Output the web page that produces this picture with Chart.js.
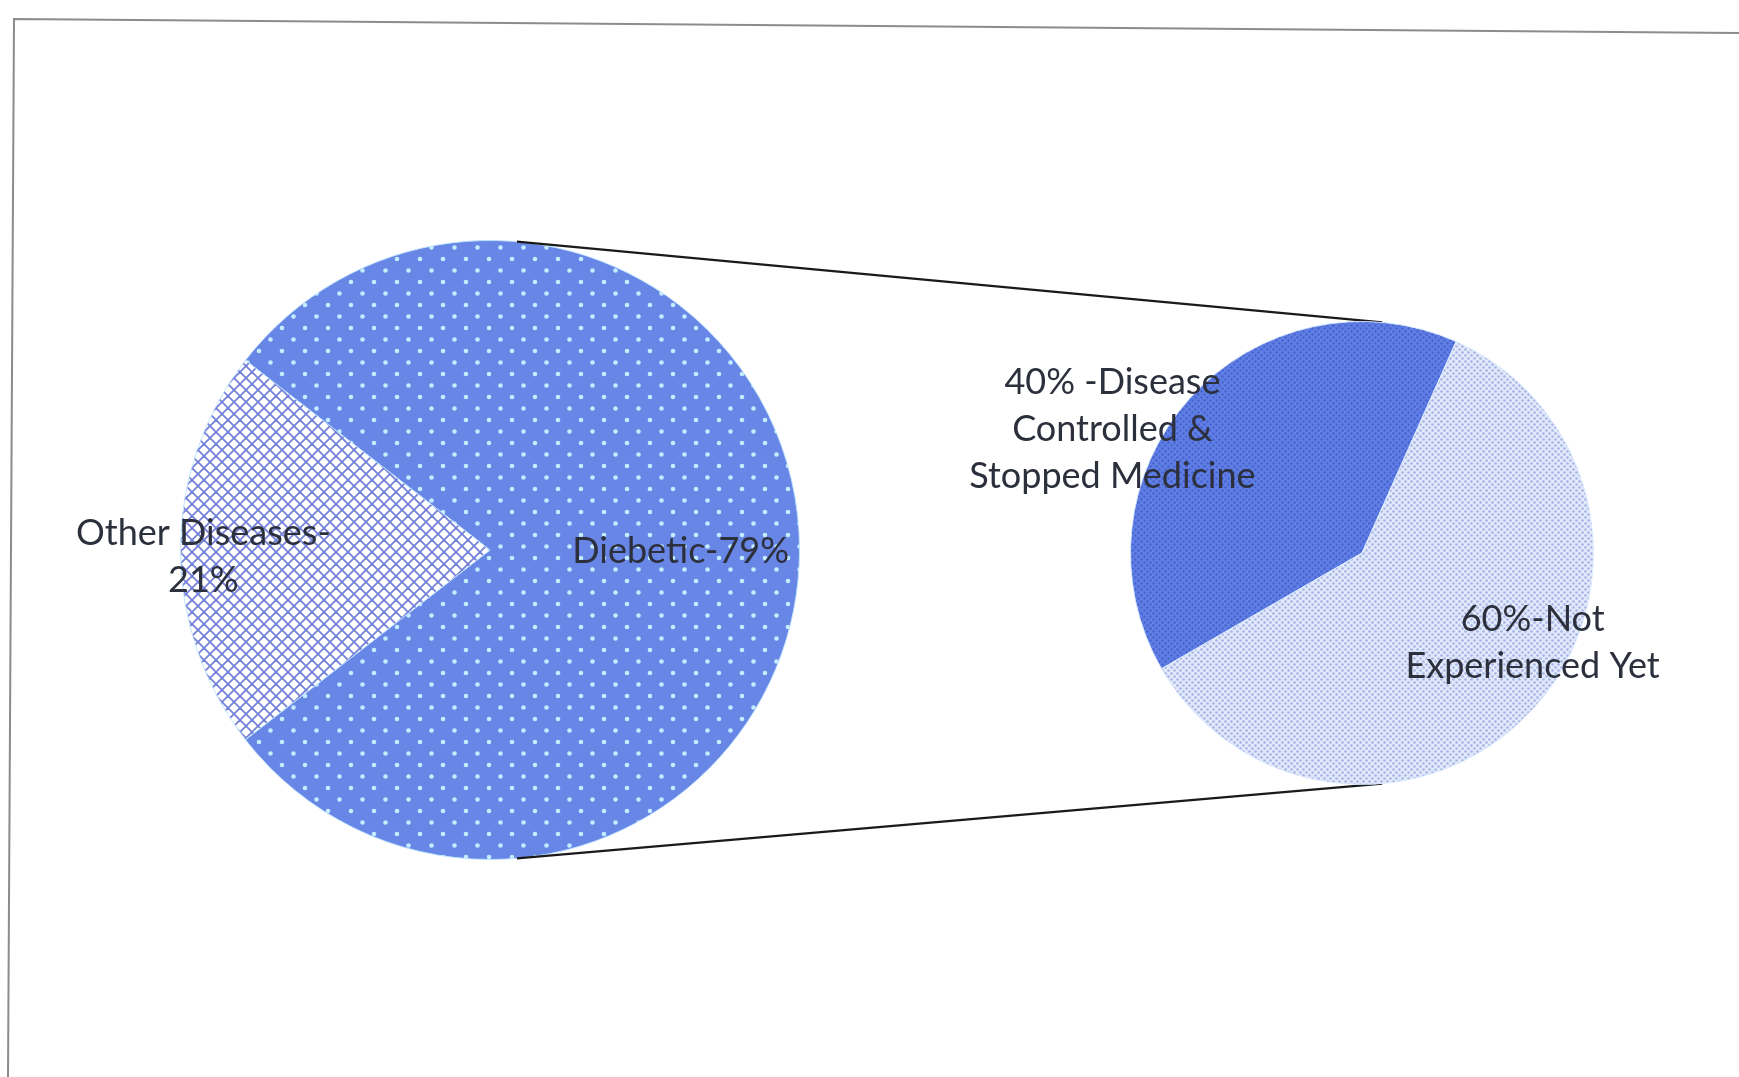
<!DOCTYPE html>
<html>
<head>
<meta charset="utf-8">
<title>Pie of pie</title>
<script src="https://cdn.jsdelivr.net/npm/chart.js"></script>
<style>
  html, body { margin: 0; padding: 0; background: #fff; }
  #wrap { position: relative; width: 1739px; height: 1077px; overflow: hidden; }
  .layer { position: absolute; left: 0; top: 0; }
</style>
</head>
<body>
<div id="wrap">
  <canvas id="mainPie" class="layer" width="1739" height="1077"></canvas>
  <canvas id="subPie" class="layer" width="1739" height="1077"></canvas>
</div>
<script>
// data
var mainLabels = ["Diebetic", "Other Diseases"];
var mainValues = [79, 21];
var mainText = [["Diebetic-79%"], ["Other Diseases-", "21%"]];

var subLabels = ["Disease Controlled & Stopped Medicine", "Not Experienced Yet"];
var subValues = [40, 60];
var subText = [["40% -Disease", "Controlled &", "Stopped Medicine"], ["60%-Not", "Experienced Yet"]];

// label placement, in units of the pie radius from its centre
var mainTextPos = [[0.616, 0.003], [-0.926, 0.023]];
var subTextPos = [[-1.078, -0.534], [0.737, 0.388]];

var FONT = "36px Lato, 'Open Sans', sans-serif";
var LINE_H = 47;
var TEXT_COLOR = "#2c2f3c";

function makePattern(target, size, bg, paint) {
  var c = document.createElement("canvas");
  c.width = size; c.height = size;
  var g = c.getContext("2d");
  g.fillStyle = bg;
  g.fillRect(0, 0, size, size);
  paint(g, size);
  return target.getContext("2d").createPattern(c, "repeat");
}

function dots(color, r, pts) {
  return function (g) {
    g.fillStyle = color;
    pts.forEach(function (p) {
      g.beginPath(); g.arc(p[0], p[1], r, 0, Math.PI * 2); g.fill();
    });
  };
}

var mainCanvas = document.getElementById("mainPie");
var subCanvas = document.getElementById("subPie");

var diabeticFill = makePattern(mainCanvas, 23, "#6886e6", dots("#c4ecff", 2.3, [[6, 6], [17.5, 17.5]]));
var otherFill = makePattern(mainCanvas, 12, "#ffffff", function (g, s) {
  g.strokeStyle = "#7480d8";
  g.lineWidth = 1.8;
  for (var k = -s; k <= s; k += s) {
    g.beginPath(); g.moveTo(k, 0); g.lineTo(k + s, s); g.stroke();
    g.beginPath(); g.moveTo(k + s, 0); g.lineTo(k, s); g.stroke();
  }
});
var controlledFill = makePattern(subCanvas, 6, "#5f7fe5", dots("#4862cc", 1.2, [[1.5, 1.5], [4.5, 4.5]]));
var notYetFill = makePattern(subCanvas, 6, "#e2e9fa", dots("#a3b3e3", 1.3, [[1.5, 1.5], [4.5, 4.5]]));

function labelPlugin(texts, pos) {
  return {
    id: "sliceText",
    afterDatasetsDraw: function (chart) {
      var ctx = chart.ctx;
      var arcs = chart.getDatasetMeta(0).data;
      ctx.save();
      ctx.font = FONT;
      ctx.fillStyle = TEXT_COLOR;
      ctx.textAlign = "center";
      ctx.textBaseline = "middle";
      arcs.forEach(function (arc, i) {
        var lines = texts[i];
        var cx = arc.x + pos[i][0] * arc.outerRadius;
        var cy = arc.y + pos[i][1] * arc.outerRadius;
        var y0 = cy - (lines.length - 1) * LINE_H / 2;
        lines.forEach(function (t, j) { ctx.fillText(t, cx, y0 + j * LINE_H); });
      });
      ctx.restore();
    }
  };
}

var framePlugin = {
  id: "frame",
  beforeDraw: function (chart) {
    var ctx = chart.ctx;
    ctx.save();
    ctx.strokeStyle = "#8c8c8c";
    ctx.lineWidth = 2;
    ctx.beginPath();
    ctx.moveTo(8, 1077);
    ctx.lineTo(14, 19);
    ctx.lineTo(1739, 33);
    ctx.stroke();
    ctx.restore();
  }
};

var mainChart = new Chart(mainCanvas, {
  type: "pie",
  data: {
    labels: mainLabels,
    datasets: [{
      data: mainValues,
      backgroundColor: [diabeticFill, otherFill],
      borderColor: "rgba(190,228,255,0.9)",
      borderWidth: 1
    }]
  },
  options: {
    responsive: false,
    animation: false,
    events: [],
    rotation: -52.2,
    layout: { padding: { left: 180, top: 240, right: 939, bottom: 217 } },
    plugins: { legend: { display: false }, tooltip: { enabled: false } }
  },
  plugins: [framePlugin, labelPlugin(mainText, mainTextPos)]
});

// lines joining the two pies
var connectorPlugin = {
  id: "connectors",
  beforeDatasetsDraw: function (chart) {
    var a = mainChart.getDatasetMeta(0).data[0];
    var b = chart.getDatasetMeta(0).data[0];
    var ang = 85 * Math.PI / 180;
    var ctx = chart.ctx;
    ctx.save();
    ctx.strokeStyle = "#1a1a1a";
    ctx.lineWidth = 2.4;
    [-1, 1].forEach(function (s) {
      ctx.beginPath();
      ctx.moveTo(a.x + Math.cos(ang) * a.outerRadius, a.y + s * Math.sin(ang) * a.outerRadius);
      ctx.lineTo(b.x + Math.cos(ang) * b.outerRadius, b.y + s * Math.sin(ang) * b.outerRadius);
      ctx.stroke();
    });
    ctx.restore();
  }
};

var subChart = new Chart(subCanvas, {
  type: "pie",
  data: {
    labels: subLabels,
    datasets: [{
      data: subValues,
      backgroundColor: [controlledFill, notYetFill],
      borderColor: "rgba(220,235,255,0.9)",
      borderWidth: 1
    }]
  },
  options: {
    responsive: false,
    animation: false,
    events: [],
    rotation: -120,
    layout: { padding: { left: 1130, top: 321, right: 145, bottom: 292 } },
    plugins: { legend: { display: false }, tooltip: { enabled: false } }
  },
  plugins: [connectorPlugin, labelPlugin(subText, subTextPos)]
});
</script>
</body>
</html>
